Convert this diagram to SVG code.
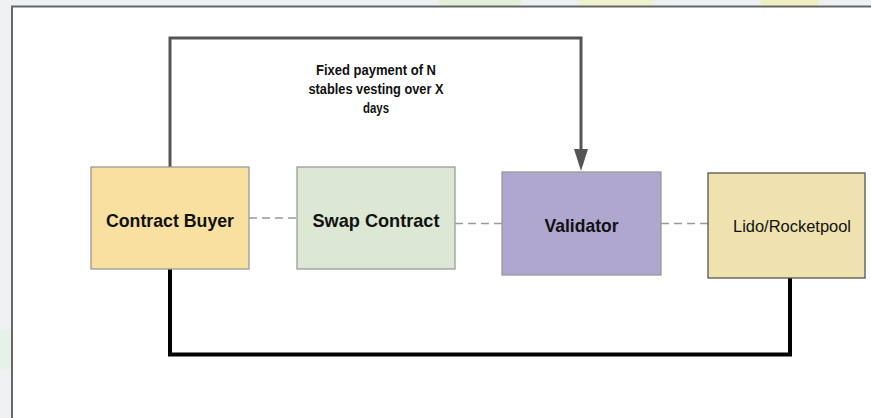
<svg xmlns="http://www.w3.org/2000/svg" width="871" height="418" viewBox="0 0 871 418">
<style>
.box{stroke:#9a9a9a;stroke-width:1.3}
.lbl{font-family:"Liberation Sans",Arial,sans-serif;font-weight:bold;fill:#111;text-anchor:middle}
.dash{stroke:#9a9a9a;stroke-width:1.5;stroke-dasharray:8 5;fill:none}
</style>
<defs>
<marker id="arr" markerUnits="userSpaceOnUse" markerWidth="24" markerHeight="16" refX="1" refY="7" orient="auto" overflow="visible">
<path d="M0,0 L22,7 L0,14 Z" fill="#555"/>
</marker>
</defs>
<rect x="0" y="0" width="871" height="418" fill="#eef0f2"/>
<ellipse cx="480" cy="2" rx="42" ry="8" fill="#e3efd6"/>
<ellipse cx="616" cy="2" rx="38" ry="8" fill="#eef2cf"/>
<ellipse cx="790" cy="2" rx="30" ry="8" fill="#eef0c4"/>
<rect x="0" y="330" width="12" height="40" fill="#e6f1ea"/>
<rect x="12" y="6.5" width="880" height="430" fill="#ffffff" stroke="#666" stroke-width="2"/>

<g id="connectors">
<path d="M170,167 V38 H581 V150" fill="none" stroke="#555" stroke-width="3" marker-end="url(#arr)"/>
<line class="dash" x1="249" y1="218" x2="297" y2="218"/>
<line class="dash" x1="455" y1="223.5" x2="502" y2="223.5"/>
<line class="dash" x1="661" y1="223.5" x2="708" y2="223.5"/>
<path d="M170,269 V354.5 H790 V278" fill="none" stroke="#000" stroke-width="4"/>
<g id="label-payment">
<text class="lbl" font-size="14.5" x="376" y="75" textLength="120" lengthAdjust="spacingAndGlyphs">Fixed payment of N</text>
<text class="lbl" font-size="14.5" x="376" y="94" textLength="135" lengthAdjust="spacingAndGlyphs">stables vesting over X</text>
<text class="lbl" font-size="14.5" x="376" y="113" textLength="26" lengthAdjust="spacingAndGlyphs">days</text>
</g>
</g>

<g id="contract-buyer">
<rect class="box" x="91" y="167" width="158" height="102" fill="#f8e1a0"/>
<text class="lbl" font-size="19" x="170" y="227" textLength="128" lengthAdjust="spacingAndGlyphs">Contract Buyer</text>
</g>
<g id="swap-contract">
<rect class="box" x="297" y="167" width="158" height="102" fill="#dce7d4"/>
<text class="lbl" font-size="19" x="376" y="227" textLength="127" lengthAdjust="spacingAndGlyphs">Swap Contract</text>
</g>
<g id="validator">
<rect class="box" x="502" y="172" width="159" height="103" fill="#b0a7d1" stroke="#8a8a8a"/>
<text class="lbl" font-size="19" x="581.5" y="232" textLength="74" lengthAdjust="spacingAndGlyphs">Validator</text>
</g>
<g id="lido-rocketpool">
<rect x="708" y="173" width="157" height="105" fill="#efe2ae" stroke="#555" stroke-width="1.3"/>
<text font-family="Liberation Sans, Arial, sans-serif" font-size="16.5" fill="#111" text-anchor="middle" x="792" y="232" textLength="118" lengthAdjust="spacingAndGlyphs">Lido/Rocketpool</text>
</g>
</svg>
